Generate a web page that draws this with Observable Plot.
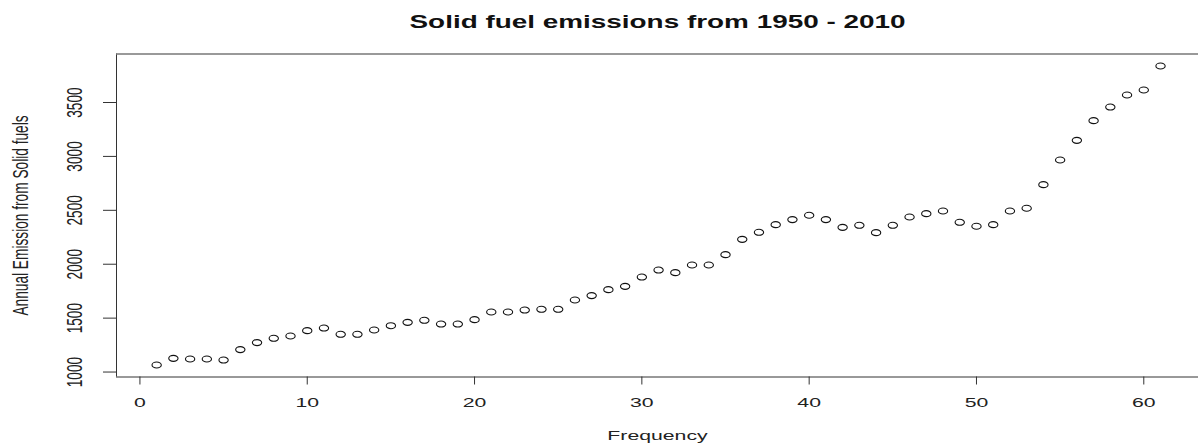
<!DOCTYPE html>
<html>
<head>
<meta charset="utf-8">
<script src="https://cdn.jsdelivr.net/npm/d3@7"></script>
<script src="https://cdn.jsdelivr.net/npm/@observablehq/plot@0.6"></script>
<style>
  html, body { margin: 0; padding: 0; background: #fff; }
</style>
</head>
<body>
<div id="chart"></div>
<script>
// Annual global emissions from solid fuels, one value per year 1950–2010
const years = d3.range(1950, 2011);
const frequency = d3.range(1, 62);
const emissions = [
  1065, 1127, 1121, 1121, 1111, 1208, 1273, 1313, 1334, 1384,
  1408, 1350, 1350, 1390, 1430, 1461, 1480, 1445, 1445, 1486,
  1557, 1557, 1575, 1582, 1582, 1668, 1709, 1764, 1795, 1881,
  1946, 1922, 1993, 1993, 2089, 2231, 2296, 2367, 2414, 2454,
  2414, 2342, 2361, 2293, 2361, 2438, 2469, 2494, 2389, 2352,
  2367, 2494, 2519, 2738, 2967, 3149, 3332, 3458, 3570, 3616,
  3839
];
const xTicks = [0, 10, 20, 30, 40, 50, 60];
const yTicks = [1000, 1500, 2000, 2500, 3000, 3500];
const title = "Solid fuel emissions from 1950 - 2010";
const xLabel = "Frequency";
const yLabel = "Annual Emission from Solid fuels";

const rows = frequency.map((f, i) => ({frequency: f, year: years[i], value: emissions[i]}));

// Glyphs are drawn 1.55× wider than tall
const STRETCH = 1.55;

// Open elliptical marker (wider than tall)
const ellipse = {
  draw(context, size) {
    const r = Math.sqrt(size / Math.PI);
    const rx = r * STRETCH, ry = r, k = 0.5523;
    context.moveTo(rx, 0);
    context.bezierCurveTo(rx, k * ry, k * rx, ry, 0, ry);
    context.bezierCurveTo(-k * rx, ry, -rx, k * ry, -rx, 0);
    context.bezierCurveTo(-rx, -k * ry, -k * rx, -ry, 0, -ry);
    context.bezierCurveTo(k * rx, -ry, rx, -k * ry, rx, 0);
    context.closePath();
  }
};

const xDomain = [-1.4, 63.27];
const yDomain = [954, 3950];
const ink = "#222";
const plain = d => String(d);

const chart = Plot.plot({
  width: 1198,
  height: 446,
  marginLeft: 116,
  marginRight: 0,
  marginTop: 53.5,
  marginBottom: 69.5,
  style: {fontFamily: "'Liberation Sans', Arial, sans-serif", background: "#fff", color: ink},
  x: {domain: xDomain},
  y: {domain: yDomain},
  marks: [
    // plot box (left, top, bottom)
    Plot.ruleX([xDomain[0]], {stroke: "#333", strokeWidth: 1}),
    Plot.ruleY([yDomain[1]], {stroke: "#777", strokeWidth: 1.3}),
    Plot.ruleY([yDomain[0]], {stroke: "#333", strokeWidth: 1}),
    Plot.axisX(xTicks, {anchor: "bottom", tickSize: 8, tickPadding: 12.5, fontSize: 13.7, tickFormat: plain, label: null, stroke: "#333", fill: ink}),
    Plot.axisY(yTicks, {anchor: "left", tickSize: 13, tickPadding: 21.3, tickRotate: -90, fontSize: 13.7, tickFormat: plain, label: null, stroke: "#333", fill: ink}),
    Plot.dot(rows, {x: "frequency", y: "value", symbol: ellipse, r: 3, stroke: "#111", strokeWidth: 1.1, fill: "none"}),
    Plot.text([title], {text: d => d, frameAnchor: "top", dy: -25.8, lineAnchor: "bottom", fontSize: 18, fontWeight: "bold", fill: "#111"}),
    Plot.text([xLabel], {text: d => d, frameAnchor: "bottom", dy: 62.5, lineAnchor: "bottom", fontSize: 13.7, fill: ink}),
    Plot.text([yLabel], {text: d => d, frameAnchor: "left", dx: -88.5, rotate: -90, lineAnchor: "bottom", textAnchor: "middle", fontSize: 13.7, fill: ink})
  ]
});

// Widen every label horizontally around its anchor point
chart.querySelectorAll("text").forEach(t => {
  let tr = t.getAttribute("transform");
  if (!tr) {
    const x = +t.getAttribute("x") || 0, y = +t.getAttribute("y") || 0;
    t.removeAttribute("x");
    t.removeAttribute("y");
    tr = `translate(${x},${y})`;
  }
  if (tr.includes("rotate")) tr = tr.replace("rotate", `scale(${STRETCH},1) rotate`);
  else tr += ` scale(${STRETCH},1)`;
  t.setAttribute("transform", tr);
});

document.getElementById("chart").appendChild(chart);
</script>
</body>
</html>
